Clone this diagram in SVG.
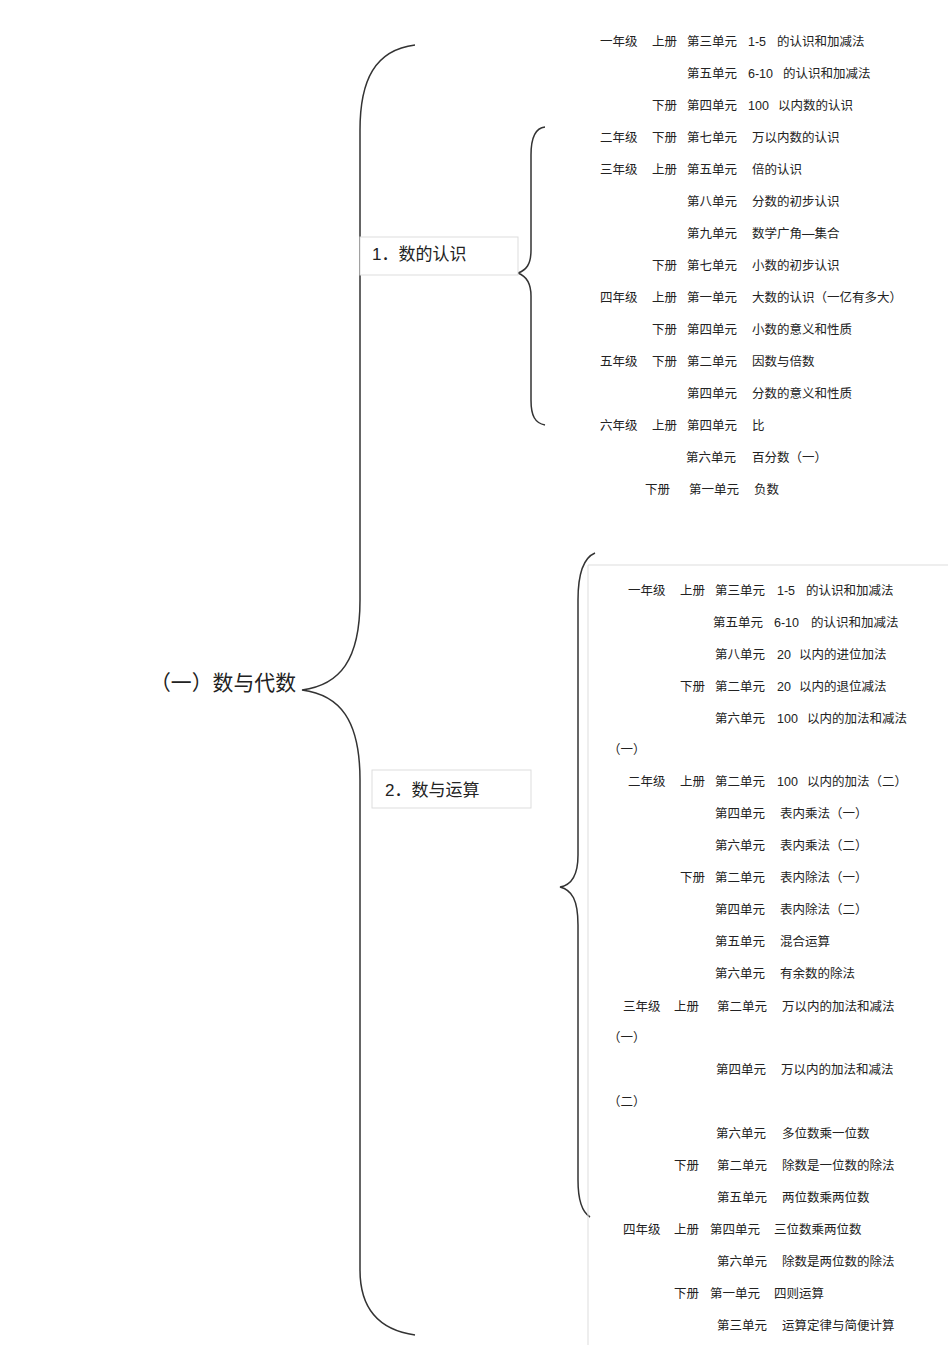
<svg xmlns="http://www.w3.org/2000/svg" width="950" height="1345" viewBox="0 0 950 1345">
<style>
text{font-family:"Liberation Sans","Noto Sans CJK SC",sans-serif;fill:#222;font-size:12.5px}
.b{fill:none;stroke:#333;stroke-width:1.5}
.box{fill:#fff;stroke:#ddd;stroke-width:1}
.t1{font-size:21px}
.t2{font-size:17px}
</style>
<rect width="950" height="1345" fill="#fff"/>
<g id="connectors">
<path class="b" d="M415,45 C375,50 360,80 360,130 L360,600 C360,660 340,685 302,690 C340,695 360,720 360,780 L360,1270 C360,1310 380,1330 415,1335"/>
<path class="b" d="M545,127 C535,128 531,138 531,155 L531,250 C531,265 526,270 518,273 C526,276 531,282 531,296 L531,400 C531,416 535,423 545,425"/>
<path class="b" d="M595,553 C583,558 578,575 578,600 L578,855 C578,875 572,885 560,887 C572,890 578,900 578,925 L578,1180 C578,1200 582,1212 590,1217"/>
<path d="M588,1345 L588,565 L948,565" fill="none" stroke="#ddd" stroke-width="1"/>
</g>
<g id="root"><text class="t1" x="150" y="690" textLength="146" lengthAdjust="spacingAndGlyphs">（一）数与代数</text></g>
<g id="n1"><rect class="box" x="360" y="237" width="158" height="38"/><text class="t2" x="372" y="260">1．数的认识</text></g>
<g id="n2"><rect class="box" x="372" y="770" width="159" height="38"/><text class="t2" x="385" y="796">2．数与运算</text></g>
<g id="list1">
<text x="600" y="46">一年级</text><text x="652" y="46">上册</text><text x="687" y="46">第三单元</text><text x="748" y="46">1-5</text><text x="777" y="46">的认识和加减法</text>
<text x="687" y="78">第五单元</text><text x="748" y="78">6-10</text><text x="783" y="78">的认识和加减法</text>
<text x="652" y="110">下册</text><text x="687" y="110">第四单元</text><text x="748" y="110">100</text><text x="778" y="110">以内数的认识</text>
<text x="600" y="142">二年级</text><text x="652" y="142">下册</text><text x="687" y="142">第七单元</text><text x="752" y="142">万以内数的认识</text>
<text x="600" y="174">三年级</text><text x="652" y="174">上册</text><text x="687" y="174">第五单元</text><text x="752" y="174">倍的认识</text>
<text x="687" y="206">第八单元</text><text x="752" y="206">分数的初步认识</text>
<text x="687" y="238">第九单元</text><text x="752" y="238">数学广角—集合</text>
<text x="652" y="270">下册</text><text x="687" y="270">第七单元</text><text x="752" y="270">小数的初步认识</text>
<text x="600" y="302">四年级</text><text x="652" y="302">上册</text><text x="687" y="302">第一单元</text><text x="752" y="302">大数的认识（一亿有多大）</text>
<text x="652" y="334">下册</text><text x="687" y="334">第四单元</text><text x="752" y="334">小数的意义和性质</text>
<text x="600" y="366">五年级</text><text x="652" y="366">下册</text><text x="687" y="366">第二单元</text><text x="752" y="366">因数与倍数</text>
<text x="687" y="398">第四单元</text><text x="752" y="398">分数的意义和性质</text>
<text x="600" y="430">六年级</text><text x="652" y="430">上册</text><text x="687" y="430">第四单元</text><text x="752" y="430">比</text>
<text x="686" y="462">第六单元</text><text x="752" y="462">百分数（一）</text>
<text x="645" y="494">下册</text><text x="689" y="494">第一单元</text><text x="754" y="494">负数</text>
</g>
<g id="list2">
<text x="628" y="595">一年级</text><text x="680" y="595">上册</text><text x="715" y="595">第三单元</text><text x="777" y="595">1-5</text><text x="806" y="595">的认识和加减法</text>
<text x="713" y="627">第五单元</text><text x="774" y="627">6-10</text><text x="811" y="627">的认识和加减法</text>
<text x="715" y="659">第八单元</text><text x="777" y="659">20</text><text x="799" y="659">以内的进位加法</text>
<text x="680" y="691">下册</text><text x="715" y="691">第二单元</text><text x="777" y="691">20</text><text x="799" y="691">以内的退位减法</text>
<text x="715" y="723">第六单元</text><text x="777" y="723">100</text><text x="807" y="723">以内的加法和减法</text>
<text x="608" y="754">（一）</text>
<text x="628" y="786">二年级</text><text x="680" y="786">上册</text><text x="715" y="786">第二单元</text><text x="777" y="786">100</text><text x="807" y="786">以内的加法（二）</text>
<text x="715" y="818">第四单元</text><text x="780" y="818">表内乘法（一）</text>
<text x="715" y="850">第六单元</text><text x="780" y="850">表内乘法（二）</text>
<text x="680" y="882">下册</text><text x="715" y="882">第二单元</text><text x="780" y="882">表内除法（一）</text>
<text x="715" y="914">第四单元</text><text x="780" y="914">表内除法（二）</text>
<text x="715" y="946">第五单元</text><text x="780" y="946">混合运算</text>
<text x="715" y="978">第六单元</text><text x="780" y="978">有余数的除法</text>
<text x="623" y="1011">三年级</text><text x="674" y="1011">上册</text><text x="717" y="1011">第二单元</text><text x="782" y="1011">万以内的加法和减法</text>
<text x="608" y="1042">（一）</text>
<text x="716" y="1074">第四单元</text><text x="781" y="1074">万以内的加法和减法</text>
<text x="608" y="1106">（二）</text>
<text x="716" y="1138">第六单元</text><text x="782" y="1138">多位数乘一位数</text>
<text x="674" y="1170">下册</text><text x="717" y="1170">第二单元</text><text x="782" y="1170">除数是一位数的除法</text>
<text x="717" y="1202">第五单元</text><text x="782" y="1202">两位数乘两位数</text>
<text x="623" y="1234">四年级</text><text x="674" y="1234">上册</text><text x="710" y="1234">第四单元</text><text x="774" y="1234">三位数乘两位数</text>
<text x="717" y="1266">第六单元</text><text x="782" y="1266">除数是两位数的除法</text>
<text x="674" y="1298">下册</text><text x="710" y="1298">第一单元</text><text x="774" y="1298">四则运算</text>
<text x="717" y="1330">第三单元</text><text x="782" y="1330">运算定律与简便计算</text>
</g>
</svg>
